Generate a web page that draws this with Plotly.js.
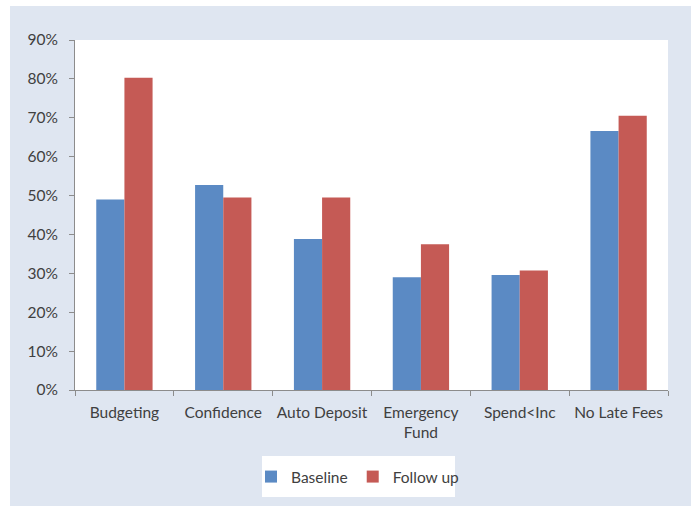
<!DOCTYPE html>
<html>
<head>
<meta charset="utf-8">
<script src="https://cdn.plot.ly/plotly-3.0.1.min.js"></script>
<style>html,body{margin:0;padding:0;background:#fff;}#chart{width:694px;height:506px;}</style>
</head>
<body>
<div id="chart"></div>
<script>
const categories = ["Budgeting", "Confidence", "Auto Deposit", "Emergency<br>Fund", "Spend&lt;Inc", "No Late Fees"];
const baseline = [0.490, 0.527, 0.388, 0.290, 0.296, 0.666];
const followUp = [0.803, 0.495, 0.495, 0.375, 0.307, 0.705];
const seriesNames = ["Baseline", "Follow up"];
const yTicks = [0, 0.1, 0.2, 0.3, 0.4, 0.5, 0.6, 0.7, 0.8, 0.9];

const W = 694, H = 506;
const L = 75, R = 26, T = 40, B = 116;
const pw = W - L - R, ph = H - T - B;
const px = v => (v - L) / pw;
const py = v => (H - B - v) / ph;

const fontFam = "Lato, 'Open Sans', sans-serif";
const txt = '#404040';
const axisCol = '#8c8c8c';

const traces = [
  {type: 'bar', name: seriesNames[0], x: categories, y: baseline, marker: {color: '#5B8AC4'}},
  {type: 'bar', name: seriesNames[1], x: categories, y: followUp, marker: {color: '#C55A55'}}
];

const layout = {
  width: W, height: H,
  margin: {l: L, r: R, t: T, b: B, pad: 0},
  paper_bgcolor: '#ffffff',
  plot_bgcolor: '#ffffff',
  font: {family: fontFam, size: 15.5, color: txt},
  barmode: 'group', bargap: 0.43, bargroupgap: 0,
  showlegend: true,
  legend: {
    orientation: 'h', x: px(358), xanchor: 'center', y: py(477), yanchor: 'middle',
    bgcolor: 'rgba(0,0,0,0)', font: {family: fontFam, size: 15.5, color: txt},
    borderwidth: 0, tracegroupgap: 0, itemwidth: 30
  },
  xaxis: {
    type: 'category', tickson: 'boundaries', ticks: 'outside', ticklen: 5,
    tickcolor: axisCol, showline: true, linecolor: axisCol, linewidth: 1,
    showgrid: false, zeroline: false, ticklabelstandoff: 8, tickangle: 0,
    tickfont: {family: fontFam, size: 15.5, color: txt}
  },
  yaxis: {
    range: [0, 0.9], tickvals: yTicks, tickformat: '.0%', ticks: 'outside', ticklen: 5,
    tickcolor: axisCol, showline: true, linecolor: axisCol, linewidth: 1,
    showgrid: false, zeroline: false, ticklabelstandoff: 8,
    tickfont: {family: fontFam, size: 15.5, color: txt}
  },
  shapes: [
    {type: 'rect', xref: 'paper', yref: 'paper', layer: 'below',
     x0: px(10), x1: px(691), y0: py(506), y1: py(6),
     fillcolor: '#DFE6F1', line: {width: 0}},
    {type: 'rect', xref: 'paper', yref: 'paper', layer: 'below',
     x0: 0, x1: 1, y0: 0, y1: 1,
     fillcolor: '#ffffff', line: {width: 0}},
    {type: 'rect', xref: 'paper', yref: 'paper', layer: 'below',
     x0: px(262), x1: px(455), y0: py(497), y1: py(456),
     fillcolor: '#ffffff', line: {width: 0}}
  ]
};

Plotly.newPlot('chart', traces, layout, {displayModeBar: false, staticPlot: true});
</script>
</body>
</html>
